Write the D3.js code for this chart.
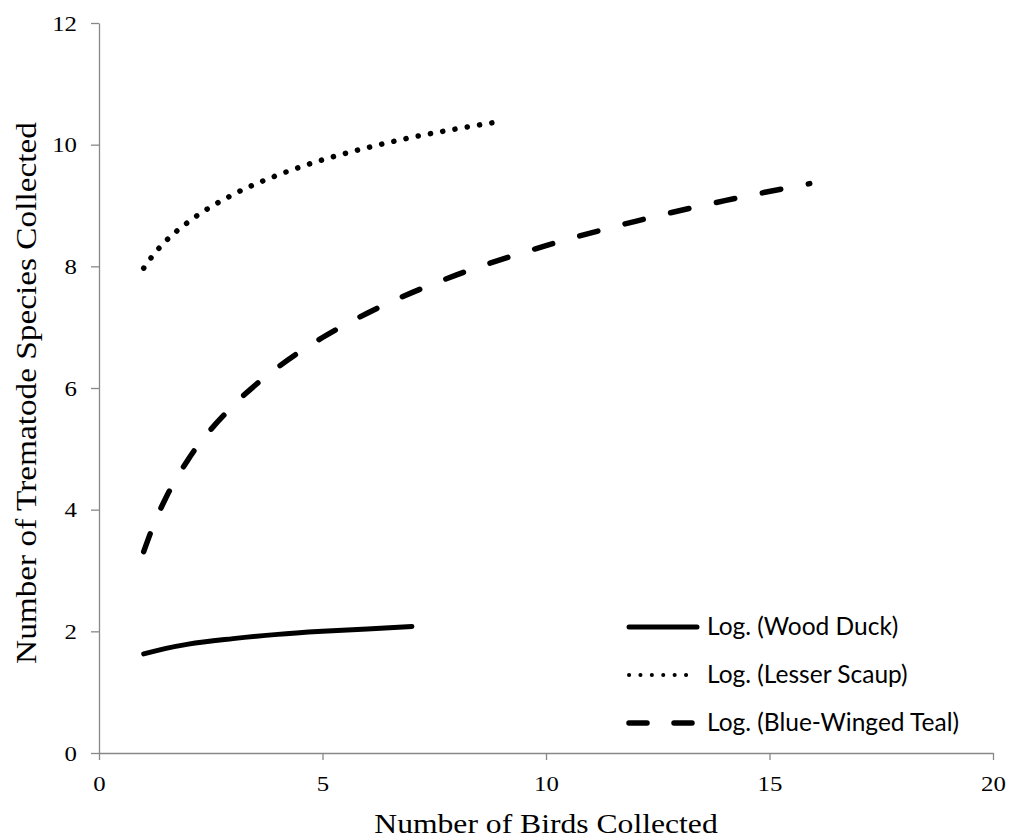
<!DOCTYPE html>
<html>
<head>
<meta charset="utf-8">
<script src="https://cdn.jsdelivr.net/npm/d3@7"></script>
<style>
  body { margin: 0; background: #fff; }
  .axis path, .axis line { stroke: #888; stroke-width: 1.3px; }
</style>
</head>
<body>
<div id="chart"></div>
<script>
// values
var xTicks = [0, 5, 10, 15, 20];
var yTicks = [0, 2, 4, 6, 8, 10, 12];

var woodX = [1, 1.5, 2, 3, 4, 5, 6, 7];
var woodY = [1.63, 1.72, 1.79, 1.88, 1.95, 2.00, 2.04, 2.08];

var scaupX = [1, 1.25, 1.5, 2, 3, 4, 5, 6, 7, 8, 8.8];
var scaupY = [7.97, 8.22, 8.42, 8.73, 9.18, 9.50, 9.75, 9.95, 10.12, 10.26, 10.36];

var tealX = [1, 1.25, 1.5, 2, 3, 4, 5, 6, 8, 10, 12, 14, 15.9];
var tealY = [3.31, 3.80, 4.20, 4.83, 5.71, 6.34, 6.83, 7.23, 7.86, 8.34, 8.74, 9.08, 9.36];

var seriesNames = ["Log. (Wood Duck)", "Log. (Lesser Scaup)", "Log. (Blue-Winged Teal)"];

var serif = "'Liberation Serif', 'Times New Roman', serif";

// set the dimensions and margins of the graph
var margin = {top: 23, right: 17, bottom: 86, left: 99},
    width = 1010 - margin.left - margin.right,
    height = 839 - margin.top - margin.bottom;

var svg = d3.select("#chart")
  .append("svg")
    .attr("width", 1010)
    .attr("height", 839)
  .append("g")
    .attr("transform", "translate(" + margin.left + "," + margin.top + ")");

var x = d3.scaleLinear().domain([0, 20]).range([0, width]);
var y = d3.scaleLinear().domain([0, 12]).range([height, 0]);

// axes
var xAxis = svg.append("g")
  .attr("class", "axis")
  .attr("transform", "translate(0," + height + ")")
  .call(d3.axisBottom(x).tickValues(xTicks).tickSize(7).tickPadding(15).tickSizeOuter(0));

var yAxis = svg.append("g")
  .attr("class", "axis")
  .call(d3.axisLeft(y).tickValues(yTicks).tickSize(8).tickPadding(14).tickSizeOuter(0));

// the source picture is a bit wider than tall, so the text is stretched sideways
[xAxis, yAxis].forEach(function(g) {
  g.attr("font-family", null).attr("font-size", null);
  g.selectAll("text")
    .attr("font-family", serif)
    .attr("font-size", 22)
    .attr("fill", "#000")
    .attr("textLength", function() { return this.textContent.length * 12.4; })
    .attr("lengthAdjust", "spacingAndGlyphs");
});

// axis titles
svg.append("text")
  .attr("transform", "translate(" + (width / 2) + "," + (height + 80) + ") scale(1.13,1)")
  .attr("text-anchor", "middle")
  .attr("font-family", serif)
  .attr("font-size", 28)
  .text("Number of Birds Collected");

svg.append("text")
  .attr("transform", "translate(" + (-63) + "," + (370) + ") rotate(-90) scale(1.11,1)")
  .attr("text-anchor", "middle")
  .attr("font-family", serif)
  .attr("font-size", 30)
  .text("Number of Trematode Species Collected");

// trend lines
var series = [
  d3.zip(woodX, woodY),
  d3.zip(scaupX, scaupY),
  d3.zip(tealX, tealY)
];
var widths = [5, 5.5, 5.5];

var line = d3.line()
  .x(function(d) { return x(d[0]); })
  .y(function(d) { return y(d[1]); })
  .curve(d3.curveMonotoneX);

series.forEach(function(s, i) {
  var p = svg.append("path")
    .datum(s)
    .attr("d", line)
    .attr("fill", "none")
    .attr("stroke", "#000")
    .attr("stroke-width", widths[i])
    .attr("stroke-linecap", "round");
  var L = p.node().getTotalLength();
  if (i == 1) {
    // round dots, last one sitting on the end of the line
    var n = Math.round(L / 12.4);
    var per = (L - 0.6) / n;
    p.attr("stroke-dasharray", "0.1 " + (per - 0.1));
  }
  if (i == 2) {
    // dashes, line ends just as a new dash starts
    var k = Math.floor(L / 44.4);
    var gap = (L - 1.5) / k - 18.8;
    p.attr("stroke-dasharray", "18.8 " + gap);
  }
});

// legend
var legend = svg.append("g").attr("transform", "translate(" + (629 - margin.left) + "," + (627 - margin.top) + ")");
var legendStyles = [
  {w: 5, dash: null},
  {w: 4, dash: "0.1 11.3"},
  {w: 5.5, dash: "18 27"}
];
seriesNames.forEach(function(name, i) {
  var row = legend.append("g").attr("transform", "translate(0," + (i * 48) + ")");
  row.append("line")
    .attr("x1", 0).attr("x2", 68)
    .attr("y1", 0).attr("y2", 0)
    .attr("stroke", "#000")
    .attr("stroke-width", legendStyles[i].w)
    .attr("stroke-linecap", "round")
    .attr("stroke-dasharray", legendStyles[i].dash);
  row.append("text")
    .attr("x", 78)
    .attr("y", 8)
    .attr("font-family", "Lato, 'Open Sans', sans-serif")
    .attr("font-size", 24.5)
    .text(name);
});
</script>
</body>
</html>
